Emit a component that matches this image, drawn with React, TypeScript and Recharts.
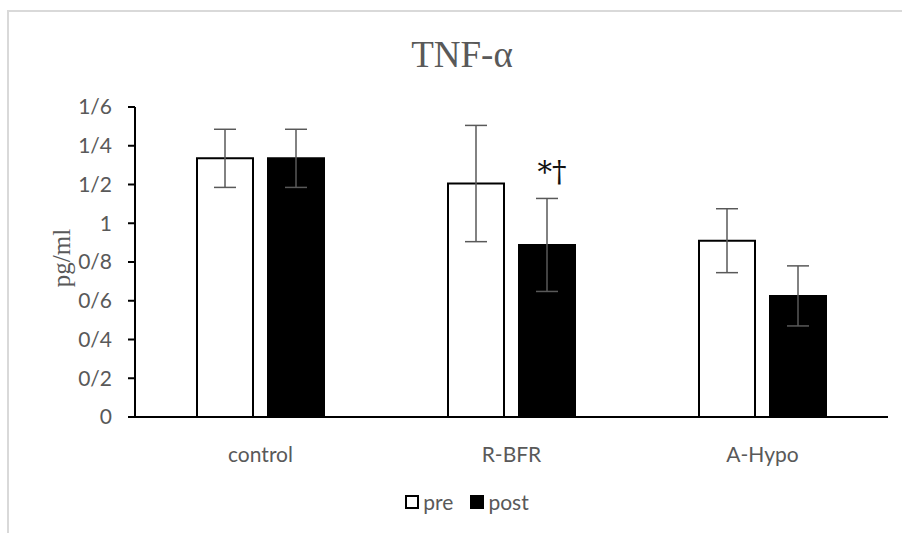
import { BarChart, Bar, XAxis, YAxis, ErrorBar, Legend, LabelList, Label } from "recharts";

const CATEGORIES = ["control", "R-BFR", "A-Hypo"];
const SERIES = ["pre", "post"];
const PRE = [1.335, 1.205, 0.91];
const POST = [1.335, 0.888, 0.625];
const PRE_ERR = [0.15, 0.3, 0.165];
const POST_ERR = [0.15, 0.24, 0.155];
const MARKS = ["", "*†", ""];
const Y_TICKS = [0, 0.2, 0.4, 0.6, 0.8, 1, 1.2, 1.4, 1.6];
const Y_TICK_LABELS = ["0", "0/2", "0/4", "0/6", "0/8", "1", "1/2", "1/4", "1/6"];

const data = CATEGORIES.map((name, i) => ({
  name,
  pre: PRE[i],
  post: POST[i],
  preErr: PRE_ERR[i],
  postErr: POST_ERR[i],
  mark: MARKS[i],
}));

const GRAY = "#595959";
const TICK_FONT = "Lato, 'Open Sans', sans-serif";
const SERIF = "'Liberation Serif', 'DejaVu Serif', serif";

const renderLegend = (props: any) => {
  const items = [...(props.payload || [])].sort(
    (a: any, b: any) => SERIES.indexOf(a.value) - SERIES.indexOf(b.value)
  );
  return (
    <div style={{ display: "flex", justifyContent: "center", alignItems: "center", fontFamily: TICK_FONT, fontSize: 21, color: GRAY }}>
      {items.map((entry: any, i: number) => (
        <div key={i} style={{ display: "flex", alignItems: "center", marginRight: i === 0 ? 17 : 0 }}>
          <span style={{ display: "inline-block", width: 10, height: 10, border: "2px solid #000", background: entry.color, marginRight: 4 }} />
          <span>{entry.value}</span>
        </div>
      ))}
    </div>
  );
};

const renderMark = (props: any) => {
  const { x, y, width, value } = props;
  if (!value) return null;
  return (
    <text x={x + width / 2 + 5} y={y - 63} textAnchor="middle" fontFamily="'DejaVu Serif', serif" fontSize={29} fill="#111">
      {value}
    </text>
  );
};

export default function App() {
  return (
    <div style={{ position: "absolute", left: 0, top: 0, width: 902, height: 533, overflow: "hidden", background: "#fff" }}>
      <div
        style={{
          position: "absolute",
          left: 7,
          top: 10,
          width: 920,
          height: 560,
          borderTop: "2px solid #d9d9d9",
          borderLeft: "2px solid #d9d9d9",
        }}
      />
      <div
        style={{
          position: "absolute",
          left: 0,
          top: 37,
          width: 924,
          textAlign: "center",
          fontFamily: SERIF,
          fontSize: 37,
          lineHeight: "36px",
          color: GRAY,
        }}
      >
        TNF-α
      </div>
      <div style={{ position: "absolute", left: 0, top: 0 }}>
        <BarChart width={902} height={533} data={data} margin={{ top: 107, right: 14, bottom: 86, left: 0 }} barSize={56} barGap={15}>
          <XAxis
            dataKey="name"
            height={30}
            axisLine={{ stroke: "#000", strokeWidth: 2 }}
            tickLine={false}
            tickSize={0}
            tickMargin={30}
            tick={{ fill: GRAY, fontSize: 21, fontFamily: TICK_FONT }}
          />
          <YAxis
            width={135}
            domain={[0, 1.6]}
            ticks={Y_TICKS}
            interval={0}
            tickFormatter={(v: number) => Y_TICK_LABELS[Y_TICKS.indexOf(v)] ?? String(v)}
            axisLine={{ stroke: "#000", strokeWidth: 2 }}
            tickLine={{ stroke: "#000", strokeWidth: 2 }}
            tickSize={7}
            tickMargin={16}
            tick={{ fill: GRAY, fontSize: 21, fontFamily: TICK_FONT }}
          >
            <Label
              content={() => (
                <text x={70} y={258} transform="rotate(-90 70 258)" textAnchor="middle" fontFamily={SERIF} fontSize={25} fill={GRAY}>
                  pg/ml
                </text>
              )}
            />
          </YAxis>
          <Legend
            content={renderLegend}
            layout="horizontal"
            verticalAlign="middle"
            align="center"
            wrapperStyle={{ left: 16, top: 489, width: 902 }}
          />
          <Bar dataKey="pre" name="pre" fill="#fff" stroke="#000" strokeWidth={2} isAnimationActive={false}>
            <ErrorBar dataKey="preErr" direction="y" width={11} stroke={GRAY} strokeWidth={1.5} isAnimationActive={false} />
          </Bar>
          <Bar dataKey="post" name="post" fill="#000" stroke="#000" strokeWidth={2} isAnimationActive={false}>
            <ErrorBar dataKey="postErr" direction="y" width={11} stroke={GRAY} strokeWidth={1.5} isAnimationActive={false} />
            <LabelList dataKey="mark" content={renderMark} />
          </Bar>
        </BarChart>
      </div>
    </div>
  );
}
